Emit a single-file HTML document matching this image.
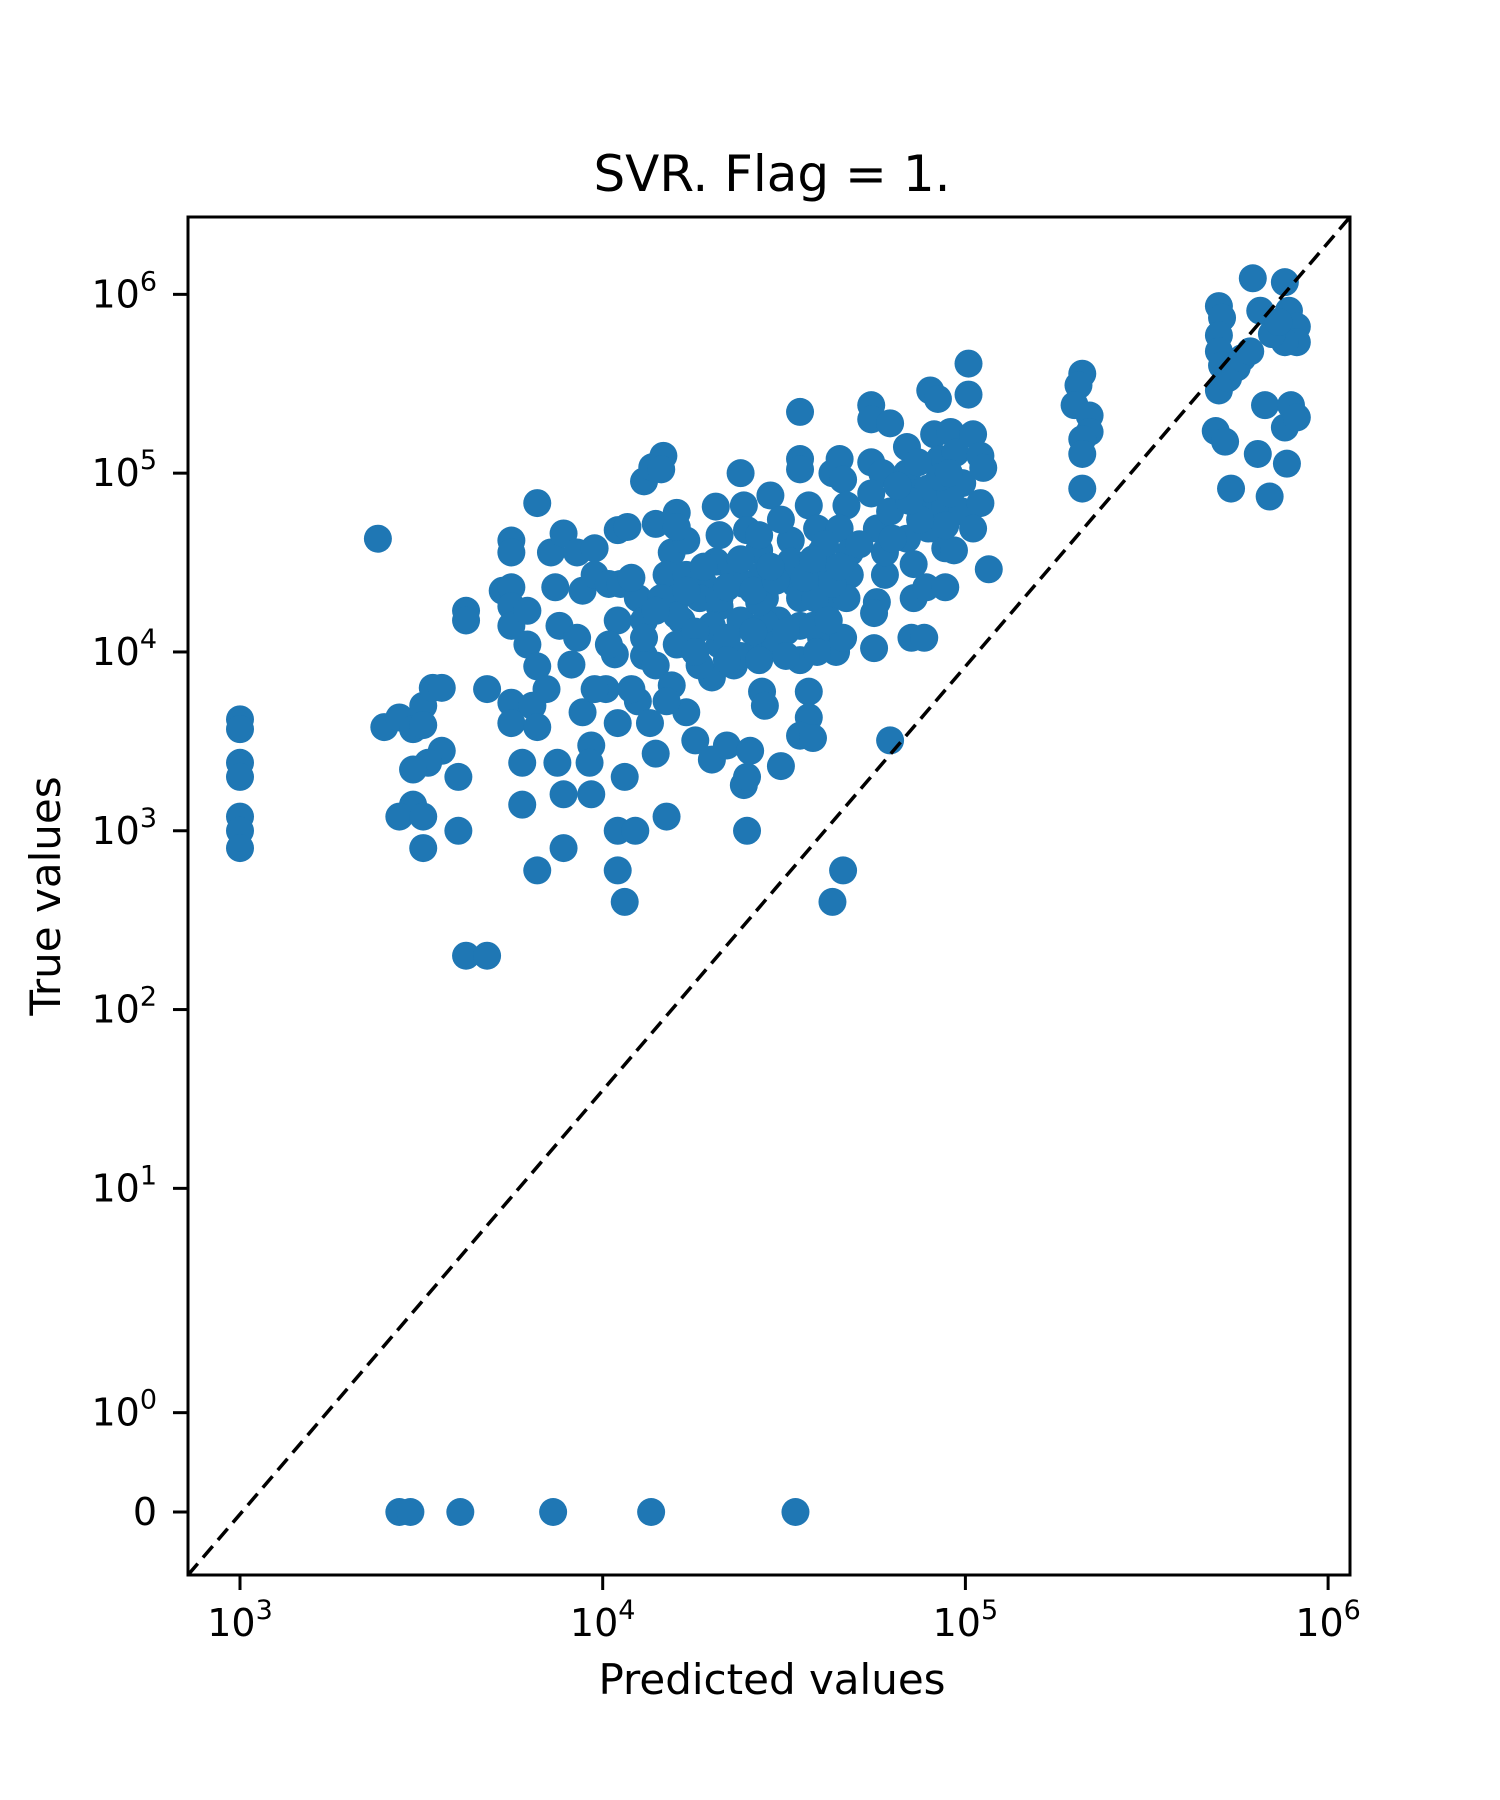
<!DOCTYPE html>
<html><head><meta charset="utf-8"><style>
html,body{margin:0;padding:0;background:#fff;}
svg{display:block;font-family:"DejaVu Sans","Liberation Sans",sans-serif;}
</style></head><body>
<svg id="chart" width="1500" height="1800" viewBox="0 0 1500 1800" xmlns="http://www.w3.org/2000/svg">
<rect width="1500" height="1800" fill="#fff"/>
<text x="772" y="191" font-size="50" text-anchor="middle">SVR. Flag = 1.</text>
<text x="772" y="1694" font-size="42" text-anchor="middle">Predicted values</text>
<text x="0" y="0" font-size="42" text-anchor="middle" transform="translate(60,896) rotate(-90)">True values</text>
<g id="marks"></g>
<g id="axes"></g>
</svg>
<script>
const predicted = [1e3,1e3,1e3,1e3,1e3,1e3,1e3,
2.75e3,2.95e3,4.05e3,7.3e3,1.36e4,3.4e4,
4.2e3,4.8e3,2.4e3,
2.5e3,2.75e3,3e3,3.2e3,3.4e3,3.6e3,3.2e3,3.6e3,3.3e3,3e3,3e3,2.75e3,3.2e3,3.2e3,4e3,4e3,
4.2e3,4.2e3,4.8e3,
5.6e3,5.6e3,5.3e3,5.6e3,5.6e3,5.6e3,6.2e3,6.2e3,5.6e3,5.6e3,6e3,6e3,6.6e3,
6.6e3,7.2e3,7.8e3,7.4e3,7.6e3,6.6e3,7e3,6.4e3,6.6e3,7.5e3,7.8e3,7.8e3,8.5e3,8.8e3,8.5e3,8.2e3,8.8e3,9.3e3,9.2e3,9.3e3,9.5e3,9.5e3,1.04e4,1.1e4,1.08e4,1.02e4,1.1e4,1.15e4,1.1e4,1.23e4,1.1e4,1.15e4,
1.1e4,1.17e4,1.12e4,1.25e4,1.3e4,1.4e4,1.25e4,1.35e4,1.4e4,1.5e4,1.3e4,1.37e4,1.47e4,1.45e4,
1.4e4,1.6e4,1.55e4,1.5e4,1.6e4,1.65e4,1.7e4,1.55e4,1.7e4,1.8e4,2e4,2.05e4,1.9e4,2.05e4,2.1e4,2.1e4,2.3e4,2e4,2.2e4,2.45e4,2.5e4,2.5e4,2.55e4,2.4e4,2.45e4,2.5e4,2.7e4,2.75e4,2.8e4,2.7e4,2.75e4,2.8e4,2.9e4,3.1e4,3.3e4,3.4e4,3.5e4,3.5e4,3.5e4,3.5e4,3.5e4,3.7e4,3.7e4,3.7e4,3.5e4,3.8e4,3.9e4,4e4,4.1e4,4.1e4,4e4,4.3e4,4.5e4,4.6e4,4.7e4,4.5e4,4.8e4,4.8e4,4.4e4,4.6e4,4.7e4,5.5e4,5.5e4,6.2e4,5.5e4,5.9e4,5.7e4,5.7e4,5.6e4,5.6e4,6e4,6.2e4,6.9e4,6.9e4,7.2e4,6.9e4,7.2e4,7.2e4,7.1e4,7.7e4,7.8e4,8e4,8.4e4,8.2e4,8.5e4,8.4e4,8.5e4,8.2e4,8.8e4,8.8e4,9.1e4,9.4e4,9.8e4,9.8e4,9.3e4,1.02e5,1.02e5,1.05e5,1.1e5,1.12e5,1.1e5,1.16e5,6.2e4,4.3e4,4.6e4,1.05e5,
2.1e5,2.05e5,2e5,2.2e5,2.2e5,2.1e5,2.1e5,2.1e5,
5e5,5.1e5,5e5,5e5,5.1e5,5e5,5.3e5,5.6e5,5.8e5,6.1e5,6.2e5,6.5e5,7.6e5,7.8e5,8.2e5,8.2e5,7.6e5,4.9e5,5.2e5,6.4e5,5.4e5,6.9e5,6.7e5,7.6e5,7.9e5,8.2e5,7.7e5,7e5,7.3e5,
1.7e4,1.85e4,2.4e4,3.05e4,2.3e4,3.5e4,1.6e4,2e4,2.8e4,3e4,2.4e4,1.85e4,1.3e4,1.45e4,1.2e4,9.5e3,1.04e4,1.5e4,7.4e4,7.9e4,7.4e4,8.8e4,7.9e4,9.1e4,6e4,6.3e4,3.3e4,4.1e4,5.1e4,5.5e4,3.85e4,1.7e4,2.45e4,2.1e4,2.7e4,
1.6e4,1.8e4,2.2e4,2.6e4,3.2e4,3.8e4,4.2e4,1.7e4,2.2e4,2.6e4,3e4,3.6e4,4.3e4,1.9e4,2.4e4,2.9e4,3.8e4,4.5e4,1.3e4,1.4e4,1.2e4,1.8e4,2.2e4,2.7e4,3.2e4,3.9e4,1.6e4,2.1e4,2.7e4,3.1e4,7.5e4,8.5e4,7e4,9e4,6.5e4];
const trueValues = [4.2e3,3.7e3,2.4e3,2e3,1.2e3,1e3,8e2,
0,0,0,0,0,0,
2e2,2e2,4.3e4,
3.8e3,4.3e3,3.7e3,5e3,6.3e3,6.3e3,3.9e3,2.8e3,2.4e3,2.2e3,1.4e3,1.2e3,1.2e3,8e2,2e3,1e3,
1.7e4,1.5e4,6.2e3,
4.2e4,3.6e4,2.2e4,2.3e4,1.8e4,1.4e4,1.7e4,1.1e4,5.2e3,4e3,2.4e3,1.4e3,6e2,
6.8e4,3.6e4,4.6e4,2.3e4,1.4e4,8.3e3,6.2e3,5e3,3.8e3,2.4e3,1.6e3,8e2,3.6e4,2.2e4,1.2e4,8.5e3,4.6e3,3e3,2.4e3,1.6e3,3.8e4,2.7e4,2.4e4,1.5e4,9.7e3,6.2e3,4e3,2e3,1e3,1e3,6e2,4e2,
4.8e4,5e4,2.4e4,2e4,9.5e3,8.4e3,5.3e3,4e3,2.7e3,1.2e3,9e4,1.08e5,1.25e5,1.05e5,
5.2e4,6e4,3.6e4,2.7e4,2e4,1.5e4,1.1e4,6.5e3,4.6e3,3.2e3,2.5e3,3.2e4,2.4e4,6.5e4,1.8e4,1.1e4,8.4e3,7.2e3,3e3,1.8e3,2e3,1e3,2.8e3,1e5,6.6e4,4.8e4,3.7e4,2.7e4,2e4,1.1e4,6e3,5e3,7.5e4,2.3e3,4.2e4,2.4e4,1.4e4,9e3,2.2e5,1.2e5,1.05e5,6.6e4,6e3,4.3e3,3.4e3,3.3e3,4.9e4,3.6e4,2.7e4,1.75e4,1.2e4,1e5,1.2e5,9.2e4,6.6e4,4.9e4,3.6e4,2.7e4,1e4,1.2e4,2e4,2.4e5,2e5,1.9e5,1.15e5,1e5,4.9e4,1.9e4,1.65e4,1.05e4,2.7e4,6.1e4,1.4e5,1e5,7.7e4,4.3e4,3.1e4,2e4,1.2e4,1.2e4,2.3e4,2.9e5,2.6e5,1.65e5,1.2e5,8.8e4,6.6e4,4.9e4,3.8e4,2.3e4,1.7e5,1.3e5,8.8e4,6.1e4,3.7e4,4.1e5,2.75e5,1.65e5,1.25e5,1.07e5,6.8e4,2.9e4,3.2e3,4e2,6e2,4.9e4,
3.6e5,3.1e5,2.4e5,2.1e5,1.7e5,1.55e5,1.28e5,8.2e4,
8.6e5,7.4e5,5.9e5,4.8e5,4e5,2.9e5,3.4e5,3.9e5,4.4e5,4.8e5,1.23e6,8.1e5,1.17e6,8.1e5,6.6e5,5.4e5,5.4e5,1.72e5,1.5e5,1.28e5,8.2e4,7.4e4,2.4e5,1.8e5,2.4e5,2.05e5,1.13e5,6e5,7e5,
2.7e4,2e4,1.5e4,1.5e4,2.7e4,2e4,1.1e4,1.4e4,1.45e4,1.1e4,9.5e3,8.4e3,1.5e4,2e4,6.2e3,6.2e3,1.1e4,5.3e3,6.6e4,4.9e4,1.15e5,5.1e4,8.2e4,7.7e4,3.6e4,4.3e4,3.2e4,4e4,4e4,7.7e4,2e4,4.2e4,2.4e4,2e4,1.9e4,
1.6e4,1.3e4,1.2e4,1.3e4,1.3e4,1.4e4,1.5e4,2.2e4,2.3e4,2.2e4,2.5e4,2.6e4,2.4e4,3e4,3.3e4,3e4,3.3e4,3e4,1.2e4,1.7e4,2.6e4,1e4,9e3,9e3,9.5e3,1e4,5e4,4.5e4,4.5e4,5.5e4,5.5e4,9.5e4,7e4,1e5,8.5e4];
const xTickValues = [1e3,1e4,1e5,1e6];
const xTickExps = ["3","4","5","6"];
const yTickValues = [0,1,10,100,1e3,1e4,1e5,1e6];
const yTickExps = [null,"0","1","2","3","4","5","6"];

const NS = "http://www.w3.org/2000/svg";
const L = 188, R = 1350, T = 217, B = 1575;
function xPix(v){ return 240 + (Math.log10(v) - 3) * 362.7; }
function yPix(v){
  const lt = 2, ls = 1 / (1 - 0.1);
  let t;
  if (Math.abs(v) <= lt) t = v * ls / lt;
  else t = Math.sign(v) * (ls + Math.log10(Math.abs(v) / lt));
  return 1512 - t * 178.8;
}
function mk(tag, attrs, parent){
  const e = document.createElementNS(NS, tag);
  for (const k in attrs) e.setAttribute(k, attrs[k]);
  parent.appendChild(e); return e;
}
const svg = document.getElementById('chart');
const marks = document.getElementById('marks');
const axes = document.getElementById('axes');
const clip = mk('clipPath', {id:'plotclip'}, svg);
mk('rect', {x:L, y:T, width:R-L, height:B-T}, clip);
marks.setAttribute('clip-path', 'url(#plotclip)');
for (let i = 0; i < predicted.length; i++) {
  const c = mk('circle', {cx:xPix(predicted[i]), cy:yPix(trueValues[i]), r:14, fill:'#1f77b4'}, marks);
  
  
}
const diag = mk('line', {x1:L, y1:B, x2:R, y2:T, stroke:'#000', 'stroke-width':3.5, 'stroke-dasharray':'15 8'}, marks);


const frame = mk('rect', {x:L, y:T, width:R-L, height:B-T, fill:'none', stroke:'#000', 'stroke-width':3}, axes);


xTickValues.forEach((v, i) => {
  const x = xPix(v);
  const tk = mk('line', {x1:x, y1:B, x2:x, y2:B+15, stroke:'#000', 'stroke-width':3}, axes);
  
  
  const t = mk('text', {x:x, y:1636, 'font-size':38, 'text-anchor':'middle'}, axes);
  
  
  t.appendChild(document.createTextNode('10'));
  const s = mk('tspan', {'font-size':27, dy:-17}, t);
  s.textContent = xTickExps[i];
});
yTickValues.forEach((v, i) => {
  const y = yPix(v);
  const tk = mk('line', {x1:L-15, y1:y, x2:L, y2:y, stroke:'#000', 'stroke-width':3}, axes);
  
  
  const t = mk('text', {x:157, y:y+13, 'font-size':38, 'text-anchor':'end'}, axes);
  
  
  if (yTickExps[i] === null) { t.textContent = '0'; }
  else {
    t.appendChild(document.createTextNode('10'));
    const s = mk('tspan', {'font-size':27, dy:-17}, t);
    s.textContent = yTickExps[i];
  }
});
</script>
</body></html>
